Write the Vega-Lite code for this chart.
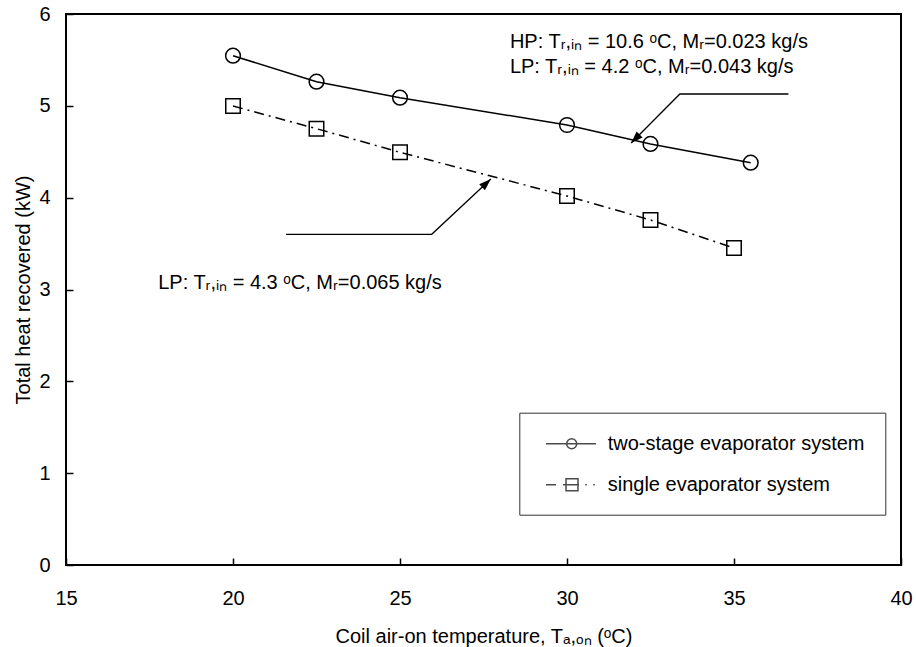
{
  "$schema": "https://vega.github.io/schema/vega-lite/v6.json",
  "width": 835,
  "height": 551,
  "autosize": {"type": "none"},
  "padding": {"left": 66, "top": 14, "right": 15, "bottom": 82},
  "background": "white",
  "config": {
    "font": "Liberation Sans",
    "view": {"stroke": "black", "strokeWidth": 2},
    "axis": {
      "grid": false,
      "domain": false,
      "tickColor": "black",
      "tickSize": -7,
      "tickWidth": 1.5,
      "labelFont": "Liberation Sans",
      "labelFontSize": 20,
      "labelColor": "black",
      "labelFlush": false,
      "titleFont": "Liberation Sans",
      "titleFontSize": 20,
      "titleFontWeight": "normal",
      "titleColor": "black"
    }
  },
  "datasets": {
    "series": [
      {"system": "two-stage evaporator system", "temp": 20, "heat": 5.546},
      {"system": "two-stage evaporator system", "temp": 22.5, "heat": 5.263},
      {"system": "two-stage evaporator system", "temp": 25, "heat": 5.089},
      {"system": "two-stage evaporator system", "temp": 30, "heat": 4.791},
      {"system": "two-stage evaporator system", "temp": 32.5, "heat": 4.585},
      {"system": "two-stage evaporator system", "temp": 35.5, "heat": 4.381},
      {"system": "single evaporator system", "temp": 20, "heat": 4.998},
      {"system": "single evaporator system", "temp": 22.5, "heat": 4.751},
      {"system": "single evaporator system", "temp": 25, "heat": 4.494},
      {"system": "single evaporator system", "temp": 30, "heat": 4.018},
      {"system": "single evaporator system", "temp": 32.5, "heat": 3.757},
      {"system": "single evaporator system", "temp": 35, "heat": 3.452}
    ],
    "arrows": [
      {"arrow": "upper", "order": 1, "temp": 36.63, "heat": 5.129},
      {"arrow": "upper", "order": 2, "temp": 33.38, "heat": 5.129},
      {"arrow": "upper", "order": 3, "temp": 31.92, "heat": 4.595},
      {"arrow": "lower", "order": 1, "temp": 21.59, "heat": 3.601},
      {"arrow": "lower", "order": 2, "temp": 25.95, "heat": 3.601},
      {"arrow": "lower", "order": 3, "temp": 27.72, "heat": 4.203}
    ],
    "notes": [
      {"temp": 28.29, "heat": 5.633, "note": "HP: Tᵣ,ᵢₙ = 10.6 ᵒC, Mᵣ=0.023 kg/s"},
      {"temp": 28.29, "heat": 5.361, "note": "LP: Tᵣ,ᵢₙ = 4.2 ᵒC, Mᵣ=0.043 kg/s"},
      {"temp": 17.76, "heat": 3.002, "note": "LP: Tᵣ,ᵢₙ = 4.3 ᵒC, Mᵣ=0.065 kg/s"}
    ]
  },
  "encoding": {
    "x": {
      "field": "temp",
      "type": "quantitative",
      "scale": {"domain": [15, 40], "nice": false, "zero": false},
      "axis": {
        "values": [15, 20, 25, 30, 35, 40],
        "labelPadding": 30.5,
        "title": "Coil air-on temperature, Tₐ,ₒₙ (ᵒC)",
        "titleY": 77,
        "titleBaseline": "alphabetic"
      }
    },
    "y": {
      "field": "heat",
      "type": "quantitative",
      "scale": {"domain": [0, 6], "nice": false},
      "axis": {
        "values": [0, 1, 2, 3, 4, 5, 6],
        "labelPadding": 23,
        "title": "Total heat recovered (kW)",
        "titleX": -33,
        "titleBaseline": "bottom"
      }
    }
  },
  "layer": [
    {
      "data": {"name": "series"},
      "transform": [{"filter": "datum.system == 'two-stage evaporator system'"}],
      "mark": {"type": "line", "color": "black", "strokeWidth": 1.5}
    },
    {
      "data": {"name": "series"},
      "transform": [{"filter": "datum.system == 'single evaporator system'"}],
      "mark": {"type": "line", "color": "black", "strokeWidth": 1.5, "strokeDash": [10, 5, 2, 5]}
    },
    {
      "data": {"name": "series"},
      "transform": [{"filter": "datum.system == 'two-stage evaporator system'"}],
      "mark": {"type": "point", "shape": "circle", "filled": false, "color": "black", "strokeWidth": 1.5, "size": 216, "opacity": 1}
    },
    {
      "data": {"name": "series"},
      "transform": [{"filter": "datum.system == 'single evaporator system'"}],
      "mark": {"type": "point", "shape": "square", "filled": false, "color": "black", "strokeWidth": 1.5, "size": 210, "opacity": 1}
    },
    {
      "data": {"name": "arrows"},
      "mark": {"type": "line", "color": "black", "strokeWidth": 1.3},
      "encoding": {
        "detail": {"field": "arrow", "type": "nominal"},
        "order": {"field": "order", "type": "quantitative"}
      }
    },
    {
      "data": {"name": "arrows"},
      "transform": [{"filter": "datum.arrow == 'upper' && datum.order == 3"}],
      "mark": {"type": "point", "shape": "M0,0 L-0.35,1 L0.35,1 Z", "filled": true, "color": "black", "size": 576, "angle": 225, "opacity": 1}
    },
    {
      "data": {"name": "arrows"},
      "transform": [{"filter": "datum.arrow == 'lower' && datum.order == 3"}],
      "mark": {"type": "point", "shape": "M0,0 L-0.35,1 L0.35,1 Z", "filled": true, "color": "black", "size": 576, "angle": 47, "opacity": 1}
    },
    {
      "data": {"name": "notes"},
      "mark": {"type": "text", "align": "left", "baseline": "alphabetic", "font": "Liberation Sans", "fontSize": 20, "color": "black"},
      "encoding": {"text": {"field": "note", "type": "nominal"}}
    },
    {
      "data": {"name": "series"},
      "transform": [{"filter": "false"}],
      "mark": {"type": "point", "filled": false, "color": "black", "strokeWidth": 1.5},
      "encoding": {
        "shape": {
          "field": "system",
          "type": "nominal",
          "scale": {
            "domain": ["two-stage evaporator system", "single evaporator system"],
            "range": [
              "M-0.43,0 L4.57,0 M1.64,0 A0.5,0.5 0 1,0 2.64,0 A0.5,0.5 0 1,0 1.64,0",
              "M-0.43,0 L0.57,0 M1.27,0 L2.87,0 M1.57,-0.6 L2.77,-0.6 L2.77,0.6 L1.57,0.6 Z M3.5,0 L3.65,0 M4.3,0 L4.45,0"
            ]
          },
          "legend": {
            "orient": "none",
            "legendX": 453.3,
            "legendY": 398.7,
            "title": null,
            "padding": 20,
            "strokeColor": "#333333",
            "fillColor": "white",
            "symbolSize": 400,
            "symbolStrokeWidth": 1.5,
            "symbolStrokeColor": "black",
            "symbolFillColor": "transparent",
            "labelFont": "Liberation Sans",
            "labelFontSize": 20,
            "labelColor": "black",
            "labelOffset": 46.4,
            "labelLimit": 400,
            "rowPadding": 20
          }
        }
      }
    }
  ]
}
